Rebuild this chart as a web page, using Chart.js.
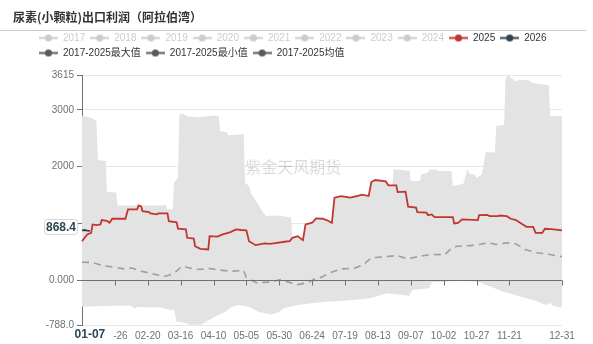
<!DOCTYPE html>
<html>
<head>
<meta charset="utf-8">
<script src="https://cdn.jsdelivr.net/npm/chart.js@4.4.0/dist/chart.umd.min.js"></script>
<style>
  html, body { margin: 0; padding: 0; background: #fff; }
</style>
</head>
<body>
<canvas id="myChart" width="593" height="344"></canvas>
<script>
// categories: every day of a (leap) year, MM-DD
const days = [];
for (let d = new Date(2024, 0, 1); d.getFullYear() === 2024; d.setDate(d.getDate() + 1)) {
    days.push(String(d.getMonth() + 1).padStart(2, '0') + '-' + String(d.getDate()).padStart(2, '0'));
}

const years = ['2017', '2018', '2019', '2020', '2021', '2022', '2023', '2024'];

// [day index, value]
const s2025 = [[0,688],[2,748],[4,807],[7,836],[8,983],[11,970],[14,983],[15,1059],[19,1045],[21,1013],[23,1083],[33,1083],[35,1248],[42,1248],[43,1318],[45,1300],[46,1218],[51,1200],[52,1177],[57,1160],[58,1177],[65,1177],[66,1041],[72,1020],[73,907],[79,895],[80,748],[85,735],[86,600],[90,554],[96,542],[97,777],[103,770],[107,807],[113,847],[117,895],[121,885],[125,880],[127,688],[132,618],[139,648],[143,640],[147,655],[154,678],[158,690],[160,748],[164,777],[168,706],[170,983],[175,1013],[178,1089],[183,1083],[186,1060],[190,1013],[192,1454],[197,1483],[204,1454],[209,1483],[213,1507],[218,1483],[220,1730],[223,1765],[231,1740],[233,1671],[239,1671],[240,1553],[246,1560],[248,1295],[254,1280],[255,1200],[262,1190],[263,1147],[266,1160],[268,1112],[282,1112],[283,1000],[286,1010],[289,1071],[301,1060],[302,1147],[308,1150],[310,1130],[316,1128],[318,1140],[323,1128],[326,1083],[330,1060],[334,1000],[338,942],[343,940],[345,836],[350,836],[352,907],[357,900],[365,877]];
const s2026 = [[0,880],[2,885],[4,875],[6,868.4]];
const maxPts = [[0,2894],[4,2880],[8,2850],[11,2800],[12,2118],[18,2100],[19,1553],[26,1545],[27,1318],[62,1318],[63,1345],[64,1290],[65,1250],[69,1250],[70,1719],[73,1807],[74,2925],[77,2930],[80,2890],[90,2870],[100,2900],[104,2890],[105,2630],[110,2610],[111,2554],[123,2570],[124,1719],[127,1659],[129,1500],[131,1450],[134,1336],[137,1218],[140,1130],[150,1140],[159,1101],[160,748],[164,777],[168,706],[170,983],[175,1013],[178,1089],[183,1083],[186,1060],[190,1013],[192,1454],[197,1483],[204,1454],[209,1483],[213,1507],[218,1483],[220,1730],[223,1765],[231,1740],[233,1671],[236,1671],[237,1954],[249,1930],[250,1747],[257,1747],[258,1866],[263,1900],[264,1950],[270,1950],[271,1924],[281,1924],[282,1659],[290,1700],[293,1954],[295,1870],[299,1860],[300,1807],[304,1860],[307,2254],[314,2250],[315,2718],[321,2740],[322,3542],[324,3615],[326,3572],[330,3500],[333,3530],[340,3520],[342,3480],[346,3460],[355,3436],[356,2894],[365,2890]];
const minPts = [[0,-466],[22,-450],[37,-445],[40,-495],[43,-470],[60,-480],[67,-523],[70,-530],[72,-729],[78,-750],[82,-788],[91,-780],[94,-740],[101,-641],[109,-553],[114,-466],[119,-435],[127,-470],[134,-553],[144,-605],[149,-570],[154,-487],[164,-435],[174,-405],[187,-376],[192,-376],[206,-347],[219,-318],[232,-230],[249,-272],[251,-170],[264,-141],[266,-36],[287,-12],[300,-20],[308,-88],[320,-200],[333,-288],[343,-347],[353,-435],[356,-400],[358,-450],[363,-476],[365,-480]];
const meanPts = [[0,318],[7,315],[16,259],[24,230],[32,200],[38,215],[45,159],[53,118],[59,83],[63,71],[66,90],[71,141],[76,247],[82,215],[87,189],[93,200],[96,210],[103,185],[113,159],[123,170],[125,41],[133,-46],[144,-30],[151,12],[159,-46],[164,-76],[171,-46],[177,20],[183,60],[187,118],[197,200],[207,210],[214,277],[220,395],[230,413],[240,436],[247,377],[255,413],[265,454],[276,450],[280,542],[285,600],[295,610],[302,630],[309,660],[315,630],[323,660],[330,640],[337,542],[346,484],[356,454],[365,413]];

const xTickIdx = [0, 25, 50, 75, 100, 125, 150, 175, 200, 225, 250, 275, 300, 325, 365];
const yTicks = [-788, 0, 1000, 2000, 3000, 3615];
const yTickText = ['-788.0', '0.000', '', '2000', '3000', '3615'];
const pointerDay = 6;      // 01-07
const pointerValue = 868.4;

const toXY = pts => pts.map(p => ({x: days[p[0]], y: p[1]}));

// "—●—" legend icon
function icon(color) {
    const c = document.createElement('canvas');
    c.width = 19; c.height = 9;
    const g = c.getContext('2d');
    g.strokeStyle = color; g.fillStyle = color; g.lineWidth = 2;
    g.beginPath(); g.moveTo(0, 4.5); g.lineTo(19, 4.5); g.stroke();
    g.beginPath(); g.arc(9.5, 4.5, 3.6, 0, Math.PI * 2); g.fill();
    return c;
}

const FONT = 'Arial, "Liberation Sans", "Noto Sans CJK SC", sans-serif';
Chart.defaults.font.family = FONT;
Chart.defaults.font.size = 10;
Chart.defaults.color = '#6e7079';

const decor = {
    id: 'decor',
    beforeInit(chart) {
        const lg = chart.legend;
        if (lg) {
            const fit = lg.fit;
            lg.fit = function () { fit.call(this); this.height += 7; };
        }
    },
    afterDatasetsDraw(chart) {
        const {ctx, chartArea: a, scales: {x, y}} = chart;
        ctx.save();
        // watermark
        ctx.font = '16px "Noto Sans CJK SC"';
        ctx.fillStyle = 'rgba(0,0,0,0.15)';
        ctx.textAlign = 'center';
        ctx.textBaseline = 'middle';
        ctx.fillText('紫金天风期货', a.left + (a.right - a.left) * 0.44, y.getPixelForValue(2000));
        // zero axis line with ticks
        const y0 = Math.round(y.getPixelForValue(0)) + 0.5;
        ctx.strokeStyle = '#6e7079';
        ctx.lineWidth = 1;
        ctx.beginPath();
        ctx.moveTo(a.left, y0); ctx.lineTo(a.right, y0);
        xTickIdx.forEach(i => {
            if (!i) return;
            const px = Math.round(x.getPixelForValue(i)) + 0.5;
            ctx.moveTo(px, y0); ctx.lineTo(px, y0 + 5);
        });
        ctx.stroke();
        ctx.restore();
    },
    afterDraw(chart) {
        const {ctx, chartArea: a, scales: {x, y}} = chart;
        ctx.save();
        // title + rule
        ctx.font = 'bold 12px "Noto Sans CJK SC"';
        ctx.fillStyle = '#333';
        ctx.textBaseline = 'middle';
        ctx.textAlign = 'left';
        ctx.fillText('尿素(小颗粒)出口利润（阿拉伯湾）', 13, 17);
        ctx.strokeStyle = '#ccc';
        ctx.beginPath(); ctx.moveTo(0, 30.5); ctx.lineTo(586, 30.5); ctx.stroke();

        // axis pointer labels
        ctx.font = 'bold 12px ' + FONT;
        const py = y.getPixelForValue(pointerValue) - 4;
        ctx.fillStyle = '#fff';
        ctx.strokeStyle = '#d6d6d6';
        ctx.beginPath();
        ctx.roundRect(a.left - 37.5, py - 7.5, 33, 15, 3);
        ctx.fill(); ctx.stroke();
        ctx.fillStyle = '#2f4554';
        ctx.textAlign = 'center';
        ctx.fillText(String(pointerValue), a.left - 21, py + 0.5);

        const px = x.getPixelForValue(pointerDay);
        ctx.fillStyle = '#fff';
        ctx.fillRect(px - 22, a.bottom + 3, 45, 16);
        ctx.fillStyle = '#2f4554';
        ctx.fillText(days[pointerDay], px, a.bottom + 10);
        ctx.restore();
    }
};

const datasets = years.map(yr => ({
    label: yr, data: [], hidden: true, borderColor: '#ccc', iconColor: '#ccc'
}));
datasets.push(
    {label: '2025', data: toXY(s2025), borderColor: '#c23531', iconColor: '#c23531', borderWidth: 1.8},
    {label: '2026', data: toXY(s2026), borderColor: '#2f4554', iconColor: '#2f4554', borderWidth: 1.8},
    {label: '2017-2025最大值', data: toXY(maxPts), borderWidth: 0, borderColor: 'rgba(0,0,0,0)',
     backgroundColor: '#e3e3e3', fill: '+1', order: 10, iconColor: '#5a5a5a'},
    {label: '2017-2025最小值', data: toXY(minPts), borderWidth: 0, borderColor: 'rgba(0,0,0,0)',
     fill: false, order: 10, iconColor: '#5a5a5a'},
    {label: '2017-2025均值', data: toXY(meanPts), borderColor: '#9e9e9e', borderWidth: 1.6,
     borderDash: [7, 5], iconColor: '#5a5a5a'}
);

const ctx = document.getElementById('myChart');
const myChart = new Chart(ctx, {
    type: 'line',
    data: { labels: days, datasets: datasets },
    options: {
        responsive: false,
        animation: false,
        devicePixelRatio: 1,
        layout: { padding: { top: 28, left: 34, right: 31, bottom: 0 } },
        elements: { point: { radius: 0 }, line: { tension: 0 } },
        plugins: {
            tooltip: { enabled: false },
            legend: {
                position: 'top',
                align: 'start',
                onClick: () => {},
                labels: {
                    usePointStyle: true,
                    pointStyleWidth: 19,
                    boxHeight: 10,
                    padding: 5,
                    font: { size: 10 },
                    generateLabels: chart => chart.data.datasets.map((ds, i) => ({
                        text: ds.label,
                        fontColor: ds.hidden ? '#ccc' : '#333',
                        pointStyle: icon(ds.iconColor),
                        fillStyle: ds.iconColor,
                        strokeStyle: ds.iconColor,
                        lineWidth: 0,
                        hidden: false,
                        datasetIndex: i
                    }))
                }
            }
        },
        scales: {
            x: {
                grid: { display: false, drawTicks: false },
                border: { display: false },
                afterBuildTicks: s => { s.ticks = xTickIdx.map(v => ({value: v})); },
                afterFit: s => { s.height = 19; },
                ticks: {
                    autoSkip: false, maxRotation: 0, padding: 5,
                    callback: v => v === 0 ? '' : days[v]
                }
            },
            y: {
                min: -788,
                max: 3615,
                afterBuildTicks: s => { s.ticks = yTicks.map(v => ({value: v})); },
                afterFit: s => { s.width = 48; },
                grid: {
                    color: c => c.tick && c.tick.value === 0 ? 'rgba(0,0,0,0)' : '#e6e6e6',
                    tickColor: '#6e7079',
                    tickLength: 5
                },
                border: { color: '#6e7079' },
                ticks: {
                    padding: 3,
                    callback: v => yTickText[yTicks.indexOf(v)]
                }
            }
        }
    },
    plugins: [decor]
});
</script>
</body>
</html>
